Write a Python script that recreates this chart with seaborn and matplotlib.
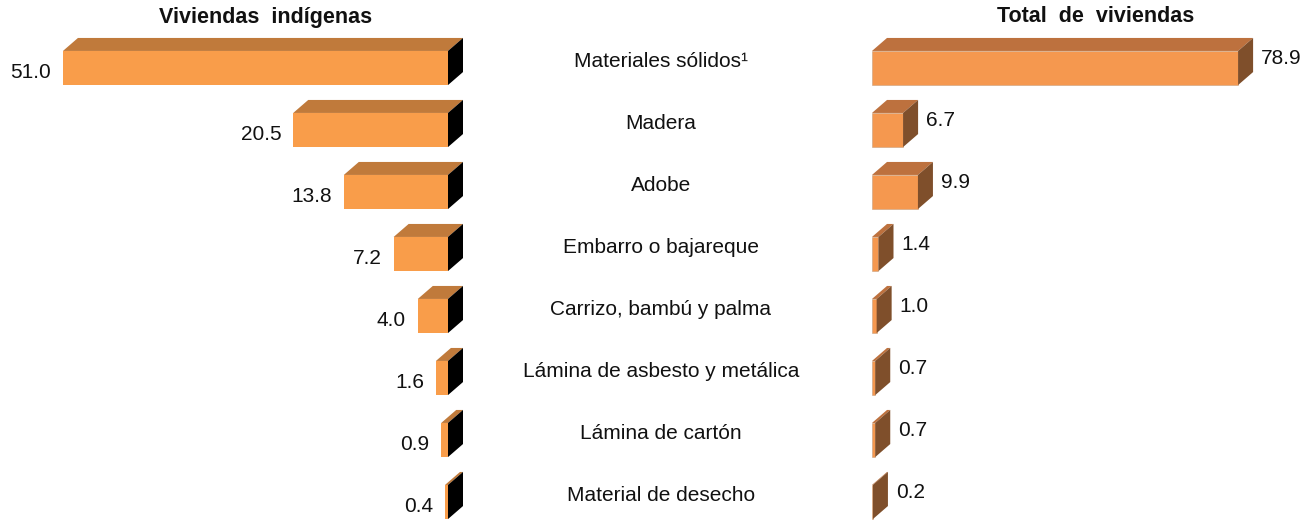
import matplotlib
matplotlib.use("Agg")
import matplotlib.pyplot as plt
import matplotlib.transforms as mtransforms
from matplotlib.patches import Polygon
import pandas as pd
import seaborn as sns

categorias = ["Materiales sólidos¹", "Madera", "Adobe", "Embarro o bajareque",
              "Carrizo, bambú y palma", "Lámina de asbesto y metálica",
              "Lámina de cartón", "Material de desecho"]
indigenas = [51.0, 20.5, 13.8, 7.2, 4.0, 1.6, 0.9, 0.4]
total = [78.9, 6.7, 9.9, 1.4, 1.0, 0.7, 0.7, 0.2]

sns.set_theme(style="white")
plt.rcParams['font.family'] = ['Liberation Sans', 'DejaVu Sans']

W, H = 1315, 521
fig = plt.figure(figsize=(W / 100, H / 100), dpi=100)

row_px = 62.0
top_px = 37.0
ylo, yhi = 7.3, -0.5
ax_h = (ylo - yhi) * row_px
bottom = (H - top_px - ax_h) / H

# left panel: zero at px 448, 7.55 px per unit, bars grow leftwards
lpx = 7.55
axl = fig.add_axes([0, bottom, 470 / W, ax_h / H])
# right panel: zero at px 872, 4.64 px per unit
rpx = 4.64
axr = fig.add_axes([850 / W, bottom, 465 / W, ax_h / H])

df = pd.DataFrame({"cat": categorias, "ind": indigenas, "tot": total})
bar_h = 0.55
sns.barplot(data=df, y="cat", x="ind", ax=axl, orient="h", width=bar_h,
            color="#F99D4A", saturation=1, edgecolor="none")
sns.barplot(data=df, y="cat", x="tot", ax=axr, orient="h", width=bar_h,
            color="#F5984F", saturation=1, edgecolor="#c9a080", linewidth=0.4)

axl.set_xlim(448 / lpx, -22 / lpx)
axr.set_xlim(-22 / rpx, 443 / rpx)
for ax in (axl, axr):
    ax.set_ylim(ylo, yhi)
    ax.axis("off")

dy = 13 / row_px
dxl = 15 / lpx
dxr = 15 / rpx

# 3d faces, left panel (depth goes right = towards zero and beyond)
for i, v in enumerate(indigenas):
    yt, yb = i - bar_h / 2, i + bar_h / 2
    axl.add_patch(Polygon([(v, yt), (0, yt), (-dxl, yt - dy), (v - dxl, yt - dy)],
                          closed=True, facecolor="#C07A3B", edgecolor="none"))
    axl.add_patch(Polygon([(0, yt), (0, yb), (-dxl, yb - dy), (-dxl, yt - dy)],
                          closed=True, facecolor="#000000", edgecolor="none"))
    axl.text(v + 12 / lpx, i + 0.08, f"{v:.1f}", ha="right", va="center",
             fontsize=15, color="#111111")

for i, v in enumerate(total):
    yt, yb = i - bar_h / 2, i + bar_h / 2
    axr.add_patch(Polygon([(0, yt), (v, yt), (v + dxr, yt - dy), (dxr, yt - dy)],
                          closed=True, facecolor="#BD713E", edgecolor="none"))
    axr.add_patch(Polygon([(v, yt), (v, yb), (v + dxr, yb - dy), (v + dxr, yt - dy)],
                          closed=True, facecolor="#7F4F2B", edgecolor="none"))
    axr.text(v + dxr + 8 / rpx, i - 0.15, f"{v:.1f}", ha="left", va="center",
             fontsize=15, color="#111111")

trans = mtransforms.blended_transform_factory(fig.transFigure, axl.transData)
for i, c in enumerate(categorias):
    fig.text(661 / W, i - 0.11, c, transform=trans, ha="center", va="center",
             fontsize=15, color="#111111")

fig.text(266 / W, 1 - 18 / H, "Viviendas  indígenas", ha="center", va="center",
         fontsize=15.5, fontweight="bold", color="#111111")
fig.text(1096 / W, 1 - 17 / H, "Total  de  viviendas", ha="center", va="center",
         fontsize=15.5, fontweight="bold", color="#111111")

fig.savefig("out.png", dpi=100, facecolor="white")
